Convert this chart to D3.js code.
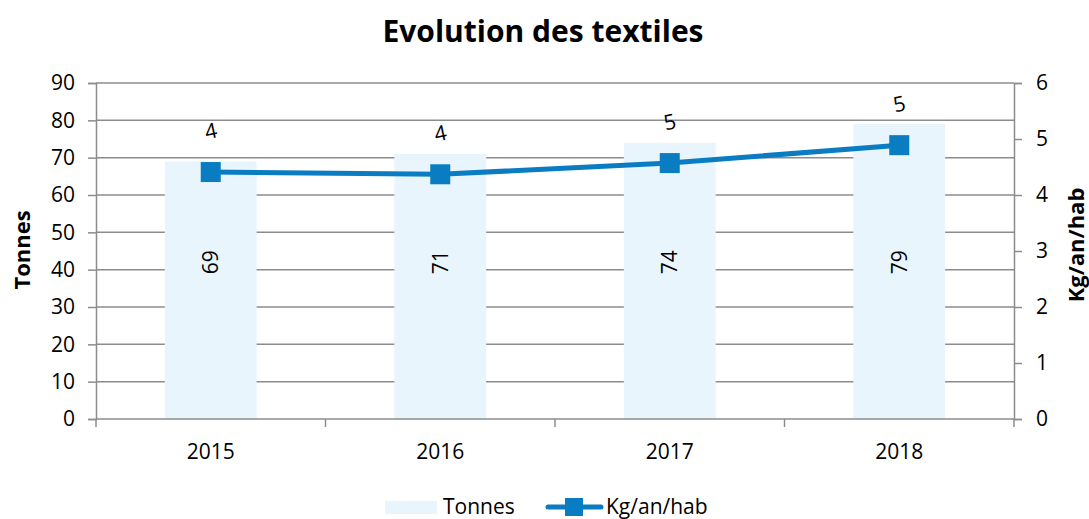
<!DOCTYPE html>
<html>
<head>
<meta charset="utf-8">
<style>
  body { margin: 0; background: #fff; }
  svg text { font-family: "Open Sans", Carlito, Calibri, sans-serif; fill: #000; }
</style>
</head>
<body>
<script src="https://cdn.jsdelivr.net/npm/d3@7/dist/d3.min.js"></script>
<script>
// data
var years = ["2015", "2016", "2017", "2018"];
var tonnes = [69, 71, 74, 79];
var kgHab = [4.41, 4.37, 4.57, 4.89];
var leftTicks = [0, 10, 20, 30, 40, 50, 60, 70, 80, 90];
var rightTicks = [0, 1, 2, 3, 4, 5, 6];

var W = 1089, H = 519;
var margin = {top: 83, right: 75, bottom: 100, left: 96};
var width = W - margin.left - margin.right,
    height = H - margin.top - margin.bottom;

var barColor = "#e8f5fc", lineColor = "#0a7dc2", gridColor = "#8c8c8c";
var fs = "21px";

var svg = d3.select("body").append("svg")
  .attr("width", W).attr("height", H);

var x = d3.scaleBand().domain(years).range([0, width]);
var yL = d3.scaleLinear().domain([0, 90]).range([height, 0]);
var yR = d3.scaleLinear().domain([0, 6]).range([height, 0]);

var g = svg.append("g").attr("transform", "translate(" + margin.left + "," + margin.top + ")");

// gridlines
g.selectAll(".grid").data(leftTicks.slice(1)).enter().append("line")
  .attr("x1", 0).attr("x2", width)
  .attr("y1", function(d){ return yL(d); }).attr("y2", function(d){ return yL(d); })
  .attr("stroke", gridColor).attr("stroke-width", 1.5);

// bars
var bw = x.bandwidth() * 0.4;
g.selectAll(".bar").data(tonnes).enter().append("rect")
  .attr("x", function(d, i){ return x(years[i]) + x.bandwidth()/2 - bw/2; })
  .attr("y", function(d){ return yL(d); })
  .attr("width", bw)
  .attr("height", function(d){ return height - yL(d); })
  .attr("fill", barColor);

// bar labels
g.selectAll(".blab").data(tonnes).enter().append("text")
  .attr("transform", function(d, i){
    return "translate(" + (x(years[i]) + x.bandwidth()/2) + "," + yL(42) + ") rotate(-90)";
  })
  .attr("text-anchor", "middle").attr("dy", "0.35em")
  .style("font-size", fs)
  .text(function(d){ return d; });

// axes
var axL = g.append("g").call(d3.axisLeft(yL).tickValues(leftTicks).tickSize(8).tickPadding(13));
var axR = g.append("g").attr("transform", "translate(" + width + ",0)")
  .call(d3.axisRight(yR).tickValues(rightTicks).tickFormat(d3.format("d")).tickSize(8).tickPadding(14));
var xTicks = d3.range(years.length + 1).map(function(i){ return i * x.step(); });
var axX = g.append("g").attr("transform", "translate(0," + height + ")");
axX.append("line").attr("x1", 0).attr("x2", width).attr("stroke", gridColor).attr("stroke-width", 1.5);
axX.selectAll(".xt").data(xTicks).enter().append("line")
  .attr("x1", function(d){ return d; }).attr("x2", function(d){ return d; })
  .attr("y1", 0).attr("y2", 8).attr("stroke", gridColor).attr("stroke-width", 1.5);
axX.selectAll(".xl").data(years).enter().append("text")
  .attr("x", function(d){ return x(d) + x.bandwidth()/2; })
  .attr("y", 33).attr("dy", "0.35em").attr("text-anchor", "middle")
  .style("font-size", fs).text(function(d){ return d; });

[axL, axR].forEach(function(a){
  a.select(".domain").attr("stroke", gridColor).attr("stroke-width", 1.5);
  a.selectAll(".tick line").attr("stroke", gridColor).attr("stroke-width", 1.5);
  a.selectAll(".tick text").style("font-size", fs).attr("fill", "#000");
});

// line
var line = d3.line()
  .x(function(d, i){ return x(years[i]) + x.bandwidth()/2; })
  .y(function(d){ return yR(d); });
g.append("path").datum(kgHab).attr("d", line)
  .attr("fill", "none").attr("stroke", lineColor).attr("stroke-width", 5);
g.selectAll(".mk").data(kgHab).enter().append("rect")
  .attr("x", function(d, i){ return x(years[i]) + x.bandwidth()/2 - 10; })
  .attr("y", function(d){ return yR(d) - 10; })
  .attr("width", 20).attr("height", 20)
  .attr("fill", lineColor);

// line labels (rounded)
g.selectAll(".llab").data(kgHab).enter().append("text")
  .attr("transform", function(d, i){
    return "translate(" + (x(years[i]) + x.bandwidth()/2) + "," + (yR(d) - 41) + ") rotate(-12)";
  })
  .attr("text-anchor", "middle").attr("dy", "0.35em")
  .style("font-size", fs)
  .text(function(d){ return Math.round(d); });

// title
svg.append("text").attr("x", 543).attr("y", 42).attr("text-anchor", "middle")
  .style("font-size", "30px").style("font-weight", "bold").text("Evolution des textiles");

// axis titles
svg.append("text").attr("transform", "translate(22,250) rotate(-90)")
  .attr("text-anchor", "middle").attr("dy", "0.35em")
  .style("font-size", "22px").style("font-weight", "bold").text("Tonnes");
svg.append("text").attr("transform", "translate(1076,245) rotate(-90)")
  .attr("text-anchor", "middle").attr("dy", "0.35em")
  .style("font-size", "22px").style("font-weight", "bold").text("Kg/an/hab");

// legend
var lg = svg.append("g").attr("transform", "translate(385,507)");
lg.append("rect").attr("x", 0).attr("y", -6).attr("width", 52).attr("height", 13).attr("fill", barColor);
lg.append("text").attr("x", 58).attr("y", 0).attr("dy", "0.35em").style("font-size", fs).text("Tonnes");
lg.append("line").attr("x1", 163).attr("x2", 216).attr("y1", 0).attr("y2", 0)
  .attr("stroke", lineColor).attr("stroke-width", 5).attr("stroke-linecap", "round");
lg.append("rect").attr("x", 180).attr("y", -9).attr("width", 18).attr("height", 18).attr("fill", lineColor);
lg.append("text").attr("x", 221).attr("y", 0).attr("dy", "0.35em").style("font-size", fs).text("Kg/an/hab");
</script>
</body>
</html>
